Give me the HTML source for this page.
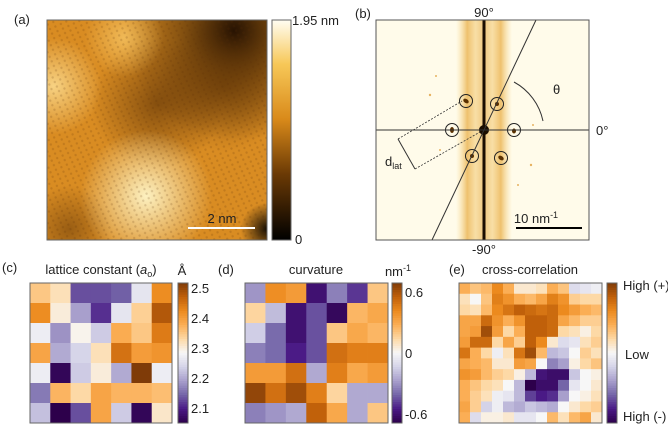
<!DOCTYPE html>
<html><head><meta charset="utf-8"><style>
body{margin:0;background:#fff;}
svg{display:block;font-family:"Liberation Sans",sans-serif;}
text{fill:#222;}
</style></head><body>
<svg id="fig" width="668" height="427" viewBox="0 0 668 427">
<defs>
<linearGradient id="hot" x1="0" y1="1" x2="0" y2="0">
<stop offset="0" stop-color="#000"/><stop offset="0.3" stop-color="#6b3a05"/><stop offset="0.55" stop-color="#d98a1a"/><stop offset="0.8" stop-color="#f7c858"/><stop offset="1" stop-color="#fffdf2"/>
</linearGradient>
<radialGradient id="dk1" cx="0.85" cy="0.05" r="0.5"><stop offset="0" stop-color="#1a0a00" stop-opacity="0.95"/><stop offset="0.5" stop-color="#3a1d00" stop-opacity="0.5"/><stop offset="1" stop-color="#3a1d00" stop-opacity="0"/></radialGradient>
<radialGradient id="dk2" cx="0.5" cy="0.38" r="0.3"><stop offset="0" stop-color="#5a2f04" stop-opacity="0.65"/><stop offset="1" stop-color="#5a2f04" stop-opacity="0"/></radialGradient>
<radialGradient id="dk4" cx="0.8" cy="0.3" r="0.3"><stop offset="0" stop-color="#5a2f04" stop-opacity="0.5"/><stop offset="1" stop-color="#5a2f04" stop-opacity="0"/></radialGradient>
<radialGradient id="br1" cx="0.45" cy="0.8" r="0.3"><stop offset="0" stop-color="#fff6c8" stop-opacity="0.95"/><stop offset="1" stop-color="#fff6c8" stop-opacity="0"/></radialGradient>
<radialGradient id="br2" cx="0.03" cy="0.3" r="0.22"><stop offset="0" stop-color="#ffe39a" stop-opacity="0.8"/><stop offset="1" stop-color="#ffe39a" stop-opacity="0"/></radialGradient>
<radialGradient id="br3" cx="0.35" cy="0.08" r="0.18"><stop offset="0" stop-color="#ffd77a" stop-opacity="0.6"/><stop offset="1" stop-color="#ffd77a" stop-opacity="0"/></radialGradient>
<radialGradient id="dk3" cx="1" cy="0.95" r="0.12"><stop offset="0" stop-color="#000" stop-opacity="0.9"/><stop offset="1" stop-color="#000" stop-opacity="0"/></radialGradient>
<radialGradient id="dk5" cx="0.1" cy="0.95" r="0.2"><stop offset="0" stop-color="#5a2f04" stop-opacity="0.5"/><stop offset="1" stop-color="#5a2f04" stop-opacity="0"/></radialGradient>
<pattern id="lat" width="6" height="5" patternUnits="userSpaceOnUse" patternTransform="rotate(-25)"><circle cx="3" cy="2.5" r="1.2" fill="#5a2f04" opacity="0.18"/></pattern>
<linearGradient id="stripe" x1="0" y1="0" x2="1" y2="0">
<stop offset="0" stop-color="#f5d27a" stop-opacity="0"/><stop offset="0.2" stop-color="#e8a838" stop-opacity="0.7"/><stop offset="0.35" stop-color="#f3cc78" stop-opacity="0.6"/><stop offset="0.5" stop-color="#e8b050" stop-opacity="0.7"/><stop offset="0.65" stop-color="#f3cc78" stop-opacity="0.6"/><stop offset="0.8" stop-color="#e8a838" stop-opacity="0.7"/><stop offset="1" stop-color="#f5d27a" stop-opacity="0"/>
</linearGradient>
</defs>

<!-- Panel a -->
<text x="14" y="24" font-size="13">(a)</text>
<g>
<rect x="47" y="20" width="220" height="220" fill="#d98c22"/>
<rect x="47" y="20" width="220" height="220" fill="url(#dk1)"/>
<rect x="47" y="20" width="220" height="220" fill="url(#dk2)"/>
<rect x="47" y="20" width="220" height="220" fill="url(#dk4)"/>
<rect x="47" y="20" width="220" height="220" fill="url(#dk5)"/>
<rect x="47" y="20" width="220" height="220" fill="url(#br1)"/>
<rect x="47" y="20" width="220" height="220" fill="url(#br2)"/>
<rect x="47" y="20" width="220" height="220" fill="url(#br3)"/>
<rect x="47" y="20" width="220" height="220" fill="url(#dk3)"/>
<rect x="47" y="20" width="220" height="220" fill="url(#lat)"/>
<rect x="47" y="20" width="220" height="220" fill="none" stroke="#666" stroke-width="1"/>
</g>
<line x1="188" y1="228" x2="255" y2="228" stroke="#fff" stroke-width="2"/>
<text x="222" y="223" font-size="13" text-anchor="middle" fill="#111">2 nm</text>
<rect x="272" y="20" width="19" height="220" fill="url(#hot)" stroke="#666"/>
<text x="292" y="25" font-size="13">1.95 nm</text>
<text x="295" y="244" font-size="13">0</text>

<!-- Panel b -->
<text x="355" y="18" font-size="13">(b)</text>
<g>
<rect x="376" y="20" width="213" height="220" fill="#fffbea"/>
<rect x="456" y="20" width="56" height="220" fill="url(#stripe)"/>
<line x1="484" y1="20" x2="484" y2="240" stroke="#1a0d00" stroke-width="3"/>
<circle cx="484" cy="130" r="5" fill="#1a0d00"/>
<g fill="#5a3000">
<ellipse cx="466" cy="101" rx="3" ry="2" transform="rotate(35 466 101)"/>
<ellipse cx="497" cy="104" rx="2" ry="2"/>
<ellipse cx="452" cy="130" rx="2" ry="3"/>
<ellipse cx="514" cy="131" rx="2" ry="2.5"/>
<ellipse cx="472" cy="156" rx="2" ry="2"/>
<ellipse cx="501" cy="158" rx="3" ry="2" transform="rotate(35 501 158)"/>
</g>
<g fill="#e0a040" opacity="0.8">
<circle cx="430" cy="95" r="1.2"/><circle cx="436" cy="76" r="1"/><circle cx="533" cy="125" r="1"/><circle cx="531" cy="165" r="1.2"/><circle cx="518" cy="185" r="1"/><circle cx="440" cy="150" r="1"/>
</g>
<g fill="none" stroke="#222" stroke-width="1">
<circle cx="466" cy="101" r="6.5"/><circle cx="497" cy="104" r="6.5"/><circle cx="452" cy="130" r="6.5"/>
<circle cx="514" cy="130" r="6.5"/><circle cx="472" cy="156" r="6.5"/><circle cx="501" cy="158" r="6.5"/>
</g>
<line x1="376" y1="130" x2="589" y2="130" stroke="#333" stroke-width="1"/>
<line x1="536" y1="20" x2="432" y2="240" stroke="#333" stroke-width="1"/>
<path d="M514 82 A58 58 0 0 1 543 121" fill="none" stroke="#333"/>
<line x1="398" y1="139" x2="462" y2="101" stroke="#333" stroke-dasharray="2,1.5" stroke-width="0.8"/>
<line x1="415" y1="169" x2="480" y2="132" stroke="#333" stroke-dasharray="2,1.5" stroke-width="0.8"/>
<line x1="398" y1="139" x2="415" y2="169" stroke="#333" stroke-width="1"/>
<rect x="376" y="20" width="213" height="220" fill="none" stroke="#555"/>
</g>
<text x="484" y="17" font-size="13" text-anchor="middle">90°</text>
<text x="484" y="254" font-size="13" text-anchor="middle">-90°</text>
<text x="596" y="135" font-size="13">0°</text>
<text x="553" y="94" font-size="13">θ</text>
<text x="385" y="166" font-size="13">d<tspan font-size="9" dy="3">lat</tspan></text>
<line x1="516" y1="228" x2="582" y2="228" stroke="#000" stroke-width="2"/>
<text x="536" y="223" font-size="13" text-anchor="middle">10 nm<tspan font-size="9" dy="-5">-1</tspan></text>

<!-- Panel c -->
<text x="2" y="272" font-size="13">(c)</text>
<text x="101" y="274" font-size="13" text-anchor="middle">lattice constant (<tspan font-style="italic">a</tspan><tspan font-size="9" dy="3">o</tspan><tspan dy="-3">)</tspan></text>
<text x="182" y="275" font-size="13" text-anchor="middle">Å</text>
<g id="gc"></g>
<!-- Panel d -->
<text x="218" y="274" font-size="13">(d)</text>
<text x="316" y="274" font-size="13" text-anchor="middle">curvature</text>
<text x="398" y="276" font-size="13" text-anchor="middle">nm<tspan font-size="9" dy="-5">-1</tspan></text>
<g id="gd"></g>
<!-- Panel e -->
<text x="449" y="274" font-size="13">(e)</text>
<text x="530" y="274" font-size="13" text-anchor="middle">cross-correlation</text>
<g id="ge"></g>
<text x="623" y="290" font-size="13">High (+)</text>
<text x="625" y="359" font-size="13">Low</text>
<text x="623" y="421" font-size="13">High (-)</text>
</svg>
<script>
const latticeValues = [
[2.35,2.32,2.13,2.13,2.14,2.26,2.42],
[2.42,2.30,2.19,2.11,2.26,2.34,2.48],
[2.27,2.18,2.29,2.23,2.38,2.35,2.44],
[2.39,2.20,2.24,2.32,2.45,2.40,2.41],
[2.27,2.06,2.23,2.30,2.20,2.52,2.27],
[2.16,2.37,2.33,2.39,2.37,2.37,2.36],
[2.22,2.04,2.13,2.39,2.23,2.06,2.31]];
const latticeTicks = [2.1,2.2,2.3,2.4,2.5];
const curvatureValues = [
[-0.3,0.4,0.35,-0.6,-0.35,-0.5,0.2],
[0.15,-0.2,-0.6,-0.45,-0.65,0.25,0.3],
[-0.15,-0.4,-0.6,-0.45,0.2,0.3,0.25],
[-0.35,-0.4,-0.55,-0.45,0.5,0.45,0.45],
[0.35,0.35,0.5,-0.25,0.45,0.3,0.35],
[0.65,0.5,0.62,0.45,0.15,-0.25,-0.25],
[-0.35,-0.3,-0.25,0.55,0.3,-0.25,0.2]];
const curvatureTicks = [-0.6,0,0.6];
const crossValues = [
[.4,.3,.35,.6,.4,.1,.1,.15,.4,.3,-.15,-.1,-.05],
[.15,0,.3,.65,.55,.4,.35,.45,.65,.55,.25,.2,.2],
[.2,.15,.35,.6,.7,.8,.75,.7,.75,.6,.5,.4,.35],
[.45,.45,.75,.55,.4,.55,.8,.8,.75,.45,.35,.25,.25],
[.45,.5,.9,.5,.2,.4,.8,.8,.75,.2,.15,.05,.2],
[.5,.75,.75,.2,.45,.25,.8,.6,.1,-.15,-.1,.15,.25],
[.7,.4,.2,-.05,.15,.7,.9,.35,-.3,-.25,0,.25,.15],
[.45,.4,.35,.1,.1,.5,.45,0,-.5,-.4,.05,.2,.3],
[.55,.5,.35,.25,.2,.05,-.3,-.85,-.9,-.9,-.25,0,.05],
[.4,.3,.2,.15,0,-.3,-1,-.9,-.9,-.6,-.1,0,.1],
[.4,.25,.15,-.05,-.1,-.3,-.7,-.8,-.75,-.4,0,.05,.15],
[.45,.25,-.2,-.05,-.3,-.35,-.25,-.3,-.35,0,.1,.2,.25],
[.4,-.15,.05,.05,.1,-.1,-.1,0,.35,.15,.35,.45,.1]];

const stops=["#2d004b","#4a1a86","#7465a8","#a89fcc","#d4d3e8","#f7f7f7","#fdd9a6","#fbae55","#ec8a1e","#c0600a","#7f3b08"];
function hex(h){return [1,3,5].map(i=>parseInt(h.substr(i,2),16));}
function cmap(t){t=Math.max(0,Math.min(1,t));const p=t*(stops.length-1);const i=Math.min(Math.floor(p),stops.length-2);const f=p-i;const a=hex(stops[i]),b=hex(stops[i+1]);return `rgb(${a.map((v,k)=>Math.round(v+(b[k]-v)*f)).join(',')})`;}
const NS="http://www.w3.org/2000/svg";
function mk(tag,at,parent){const e=document.createElementNS(NS,tag);for(const k in at)e.setAttribute(k,at[k]);parent.appendChild(e);return e;}

function panel(gid,vals,x0,y0,w,h,norm,cbx,ticks,tickFmt,name){
  const g=document.getElementById(gid);
  const n=vals.length,m=vals[0].length,cw=w/m,ch=h/n;
  vals.forEach((row,r)=>row.forEach((v,c)=>{
    const e=mk('rect',{x:x0+c*cw,y:y0+r*ch,width:cw+0.4,height:ch+0.4,fill:cmap(norm(v))},g);
    
    
  }));
  const fr=mk('rect',{x:x0,y:y0,width:w,height:h,fill:'none',stroke:'#666'},g);
  
  
  const N=60;
  for(let i=0;i<N;i++){
    const e=mk('rect',{x:cbx,y:y0+i*h/N,width:10,height:h/N+0.5,fill:cmap(1-(i+0.5)/N)},g);
    
    
  }
  const cb=mk('rect',{x:cbx,y:y0,width:10,height:h,fill:'none',stroke:'#666'},g);
  
  
  ticks.forEach(t=>{
    const y=y0+h*(1-norm(t));
    const tx=mk('text',{x:cbx+13,y:y+5,'font-size':13},g);
    tx.textContent=tickFmt(t);
    
    
  });
}
const latMin=2.05,latMax=2.517;
panel('gc',latticeValues,30,283,142,140,v=>(v-latMin)/(latMax-latMin),178,latticeTicks,t=>t.toFixed(1),'lattice');
const cvMax=0.69;
panel('gd',curvatureValues,245,283,143,140,v=>(v+cvMax)/(2*cvMax),392,curvatureTicks,t=>t===0?'0':t.toFixed(1),'curvature');
panel('ge',crossValues,459,283,143,140,v=>(v+1)/2,607,[],t=>'','crosscorr');
</script>
</body></html>
